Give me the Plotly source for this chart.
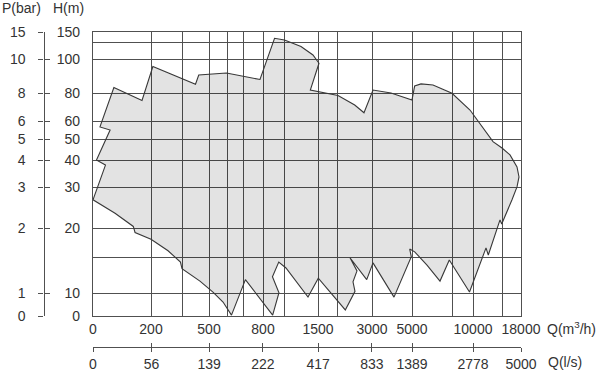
import numpy as np
import plotly.graph_objects as go

# ---- axis scale definition (grid values and their positions on the drawing) ----
Q_GRID = [0, 200, 300, 500, 600, 700, 800, 1000, 1500, 2000, 3000, 5000, 8000, 10000, 15000, 18000]
X_POS = [0, 58, 89, 116, 134, 150, 170, 191, 225, 244, 279, 319, 359, 380, 409, 428]
H_GRID = [0, 10, 15, 20, 30, 40, 50, 60, 80, 100, 130, 150]
Y_POS = [0, 22.5, 59, 87.5, 128.5, 155.5, 177, 195, 222.5, 256.7, 274, 284]

# ---- tick labels ----
Q_LABELS = [0, 200, 500, 800, 1500, 3000, 5000, 10000, 18000]
LS_LABELS = [0, 56, 139, 222, 417, 833, 1389, 2778, 5000]
H_LABELS = [0, 10, 20, 30, 40, 50, 60, 80, 100, 150]
P_LABELS = [0, 1, 2, 3, 4, 5, 6, 8, 10, 15]

# ---- performance envelope (Q in m3/h, H in m) ----
ENV_Q = [0, 43, 12, 59, 24, 72, 169, 206, 400, 424, 597, 785, 910, 1007, 1250, 1426, 1526,
         1387, 2029, 2506, 2771, 3050, 3950, 5000, 5200, 5675, 6575, 8000, 9714, 11724, 13448,
         15000, 16263, 17368, 17684, 17368, 16579, 14948, 14655, 12638, 12241, 9667, 7797,
         7100, 6125, 5202, 4885, 4965, 4100, 3050, 2849, 2371, 2571, 2457, 2514, 2237, 1842,
         1508, 1353, 1176, 1029, 950, 890, 952, 892, 712, 628, 578, 522, 433, 300, 295, 255,
         200, 145, 139, 76, 0]
ENV_H = [27, 38.3, 40.2, 55, 56.7, 83.5, 75, 95.8, 85.4, 90.8, 92, 88.2, 137.4, 134, 122.2,
         107.5, 97.7, 82, 78.5, 71.6, 66, 82, 80.3, 75.3, 84.4, 85.6, 85, 80.1, 68, 56.1, 48.8,
         45.8, 42.6, 37.6, 33.9, 30.2, 27, 21.1, 22.1, 15.35, 16.6, 10.2, 14.6, 11.7, 13.9,
         15.9, 16.4, 15.05, 8.4, 14.2, 11.9, 14.9, 13.1, 11.6, 10.3, 2.7, 10.1, 12.1, 8.4,
         11.7, 13.5, 14.3, 12.3, 10.1, 0.4, 11.9, 0.4, 6.2, 10.2, 11.7, 13.4, 14.3, 16.1,
         18.1, 19.3, 20.5, 23.7, 27]


def sx(q):
    return np.interp(np.asarray(q, dtype=float), Q_GRID, X_POS)


def sy(h):
    return np.interp(np.asarray(h, dtype=float), H_GRID, Y_POS)


FONT = dict(family="Liberation Sans, Arial, Helvetica, sans-serif", size=14, color="#333333")
LINE = "#505050"

W, H = 600, 371
ML, MR, MT, MB = 0, 75, 32, 20
PW, PH = W - ML - MR, H - MT - MB  # 525 x 319
X0, X1 = 93, 521      # plot left/right pixel
YB = 316              # plot bottom pixel


def px(x):
    return (x - ML) / PW


def py(y):
    return (H - MB - y) / PH


fig = go.Figure()
fig.add_trace(go.Scatter(
    x=sx(ENV_Q), y=sy(ENV_H), mode="lines", fill="toself",
    fillcolor="rgba(0,0,0,0.11)", line=dict(color="#383838", width=1.1),
    hoverinfo="skip", showlegend=False))

q_lab = set(Q_LABELS)
h_lab = set(H_LABELS)
xdom = [px(X0), px(X1)]
ydom = [py(YB), 1]

fig.update_layout(
    width=W, height=H, margin=dict(l=ML, r=MR, t=MT, b=MB, autoexpand=False),
    paper_bgcolor="white", plot_bgcolor="white", font=FONT, showlegend=False,
    xaxis=dict(domain=xdom, range=[0, X_POS[-1]], anchor="y",
               tickvals=sx(Q_GRID), ticktext=[str(q) if q in q_lab else "" for q in Q_GRID],
               showgrid=True, gridcolor=LINE, gridwidth=1.3, zeroline=False,
               showline=True, mirror=True, linecolor=LINE, linewidth=1.3,
               ticks="", ticklabelstandoff=0, tickfont=FONT, fixedrange=True),
    yaxis=dict(domain=ydom, range=[0, Y_POS[-1]], anchor="x",
               tickvals=sy(H_GRID), ticktext=[str(h) if h in h_lab else "" for h in H_GRID],
               showgrid=True, gridcolor=LINE, gridwidth=1.3, zeroline=False,
               showline=True, mirror=True, linecolor=LINE, linewidth=1.3,
               ticks="", ticklabelstandoff=9, tickfont=FONT, fixedrange=True),
    # P(bar) axis
    yaxis2=dict(overlaying="y", anchor="free", position=px(43.5), side="left",
                range=[0, Y_POS[-1]], tickvals=sy(H_LABELS), ticktext=[str(p) for p in P_LABELS],
                showgrid=False, zeroline=False, showline=True, linecolor=LINE, linewidth=1.3,
                ticks="outside", ticklen=5, tickwidth=1.3, tickcolor=LINE,
                ticklabelstandoff=10, tickfont=FONT, fixedrange=True),
    yaxis3=dict(overlaying="y", anchor="free", position=px(43.5), side="left",
                range=[0, Y_POS[-1]], tickvals=sy(H_LABELS), showticklabels=False,
                showgrid=False, zeroline=False, showline=False,
                ticks="inside", ticklen=5, tickwidth=1.3, tickcolor=LINE, fixedrange=True),
    # Q(l/s) axis
    xaxis2=dict(overlaying="x", anchor="free", position=py(347), side="bottom",
                range=[0, X_POS[-1]], tickvals=sx(np.array(LS_LABELS) * 3.6),
                ticktext=[str(v) for v in LS_LABELS],
                showgrid=False, zeroline=False, showline=True, linecolor=LINE, linewidth=1.3,
                ticks="outside", ticklen=4, tickwidth=1.3, tickcolor=LINE,
                ticklabelstandoff=0, tickfont=FONT, fixedrange=True),
    xaxis3=dict(overlaying="x", anchor="free", position=py(347), side="bottom",
                range=[0, X_POS[-1]], tickvals=sx(np.array(LS_LABELS) * 3.6),
                showticklabels=False, showgrid=False, zeroline=False, showline=False,
                ticks="inside", ticklen=4, tickwidth=1.3, tickcolor=LINE, fixedrange=True),
)

# invisible traces to activate the extra axes
for xa, ya in [("x2", "y"), ("x3", "y"), ("x", "y2"), ("x", "y3")]:
    fig.add_trace(go.Scatter(x=[None], y=[None], xaxis=xa, yaxis=ya, showlegend=False,
                             hoverinfo="skip"))

ann = [
    ("P(bar)", 0, 8, "left"),
    ("H(m)", 51, 8, "left"),
    ("Q(m<sup>3</sup>/h)", 545, 328, "left"),
    ("Q(l/s)", 546, 362, "left"),
]
for txt, x, y, xa in ann:
    fig.add_annotation(text=txt, x=px(x), y=py(y), xref="paper", yref="paper",
                       xanchor=xa, yanchor="middle", showarrow=False, font=FONT)

fig.write_html("out.html", config={"displayModeBar": False},
               post_script="document.body.style.margin='0';document.body.style.overflow='hidden';")
